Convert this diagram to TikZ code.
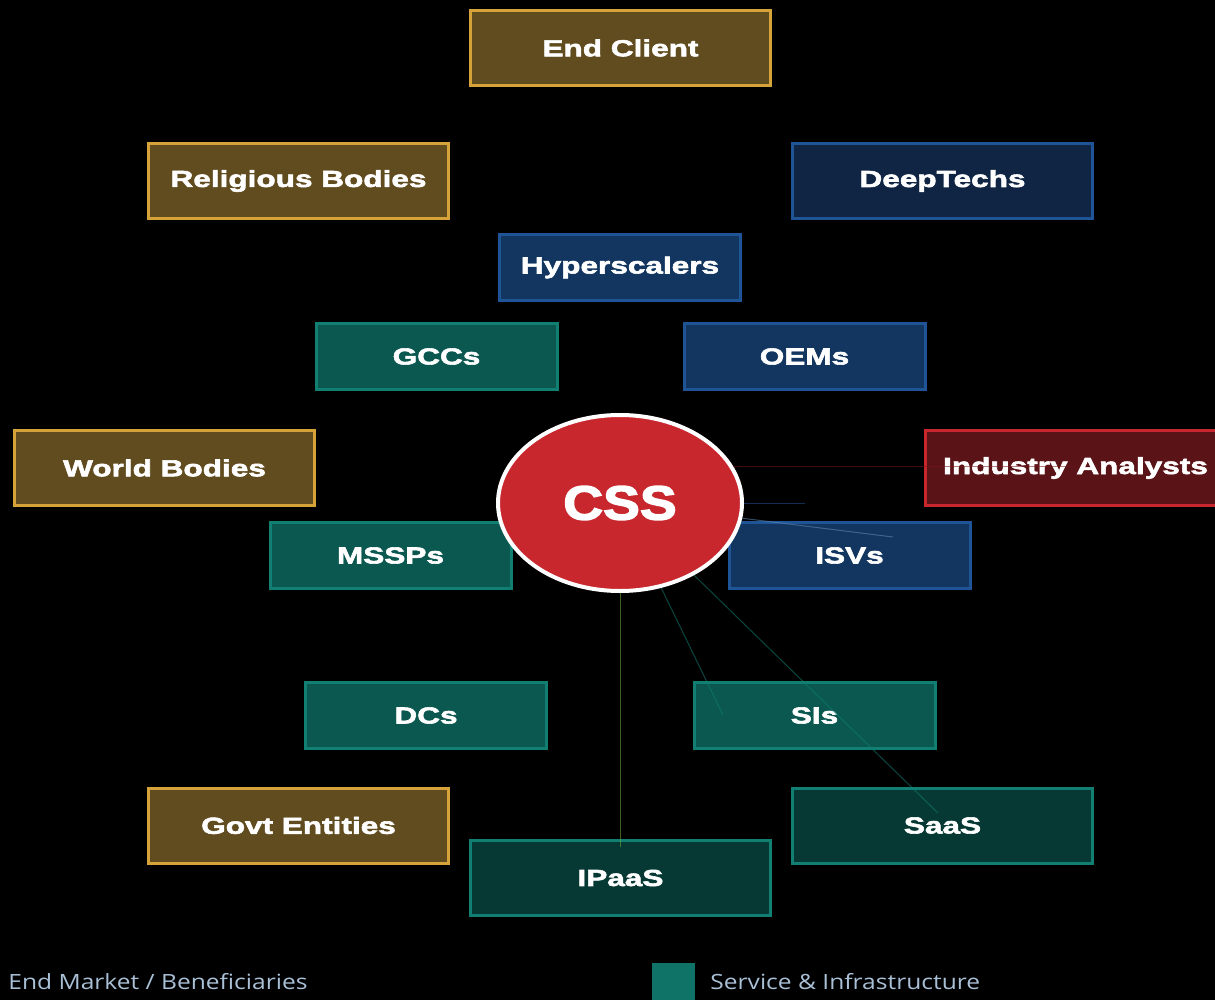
\documentclass[tikz,border=0pt]{standalone}
\usepackage{fontspec}
\setmainfont{Liberation Sans}
\newfontfamily\boxfont{Liberation Sans}[FakeStretch=1.36,BoldFeatures={FakeBold=2.5}]
\newfontfamily\cssfont{Liberation Sans}[FakeStretch=1.15,BoldFeatures={FakeBold=3}]
\newfontfamily\legendfont{Open Sans}[FakeStretch=1.17]
\usetikzlibrary{shapes.geometric}

\definecolor{goldfill}{HTML}{614C20}
\definecolor{goldline}{HTML}{D6A33A}
\definecolor{bluefill}{HTML}{12365F}
\definecolor{deepfill}{HTML}{0F2543}
\definecolor{blueline}{HTML}{1F5596}
\definecolor{tealfill}{HTML}{0A584F}
\definecolor{darkteal}{HTML}{063933}
\definecolor{tealline}{HTML}{118073}
\definecolor{cssred}{HTML}{C8272D}
\definecolor{redfill}{HTML}{5A1317}
\definecolor{legendtext}{HTML}{A9C0D6}

\tikzset{
  box/.style={rectangle,draw,line width=1.5pt,minimum width=120.5pt,minimum height=33pt,
    inner sep=0pt,text=white,font=\boxfont\bfseries\fontsize{11.6}{14}\selectfont},
  bigbox/.style={box,minimum width=150pt,minimum height=37.5pt},
  market/.style={bigbox,fill=goldfill,draw=goldline},
  tech/.style={box,fill=bluefill,draw=blueline},
  service/.style={box,fill=tealfill,draw=tealline},
  link/.style={line width=0.5pt,opacity=0.55},
  legend/.style={anchor=base west,inner sep=0pt,text=legendtext,font=\legendfont\fontsize{10.5}{13}\selectfont}
}

\begin{document}
\begin{tikzpicture}[x=0.5pt,y=-0.5pt]
  \fill[black] (0,0) rectangle (1215,1000);
  \useasboundingbox (0,0) rectangle (1215,1000);

  % end market
  \node[market] (endclient) at (620.5,48) {End Client};
  \node[market] (religious) at (298.5,181) {Religious Bodies};
  \node[market] (world) at (164.5,468) {World Bodies};
  \node[market] (govt) at (298.5,825.5) {Govt Entities};
  \node[bigbox,fill=redfill,draw=cssred] (analysts) at (1075.5,468) {Industry Analysts};

  % tech
  \node[tech,minimum width=150pt,minimum height=37.5pt,fill=deepfill] (deeptech) at (942.5,181) {DeepTechs};
  \node[tech] (hyper) at (620,267.5) {Hyperscalers};
  \node[tech] (oems) at (804.5,356.5) {OEMs};
  \node[tech] (isvs) at (849.5,555.5) {ISVs};

  % service & infrastructure
  \node[service] (gccs) at (436.5,356.5) {GCCs};
  \node[service] (mssps) at (390.5,555.5) {MSSPs};
  \node[service] (dcs) at (426,715.5) {DCs};
  \node[service] (sis) at (814.5,715.5) {SIs};
  \node[service,minimum width=150pt,minimum height=37.5pt,fill=darkteal] (saas) at (942.5,825.5) {SaaS};
  \node[service,minimum width=150pt,minimum height=37.5pt,fill=darkteal] (ipaas) at (620.5,878) {IPaaS};

  \node[ellipse,fill=cssred,draw=white,line width=2pt,minimum width=122pt,minimum height=88pt,
    inner sep=0pt,text=white,font=\cssfont\bfseries\fontsize{24}{28}\selectfont] (css) at (620,503) {CSS};

  \coordinate (isvend) at (893,537);
  \coordinate (sisend) at (723,715);
  \coordinate (saasend) at (938,813);
  \coordinate (ipaasend) at (620,847);
  \draw[link,draw=cssred!60!black] (css.18) -- (css.18 -| analysts.center);
  \draw[link,draw=blueline] (css.east) -- (css.east -| oems.center);
  \draw[link,draw=blueline!70!white] (css) -- (isvend);
  \draw[link,draw=tealline] (css) -- (sisend);
  \draw[link,draw=tealline] (css) -- (saasend);
  \draw[link,draw=tealline!60!yellow] (css.south) -- (ipaasend);

  % legend
  \node[legend] (lgmarket) at (8,989) {End Market / Beneficiaries};
  \fill[tealline!90!black] (652,963) rectangle (695,1000);
  \node[legend] (lgservice) at (710,989) {Service \& Infrastructure};
\end{tikzpicture}
\end{document}
